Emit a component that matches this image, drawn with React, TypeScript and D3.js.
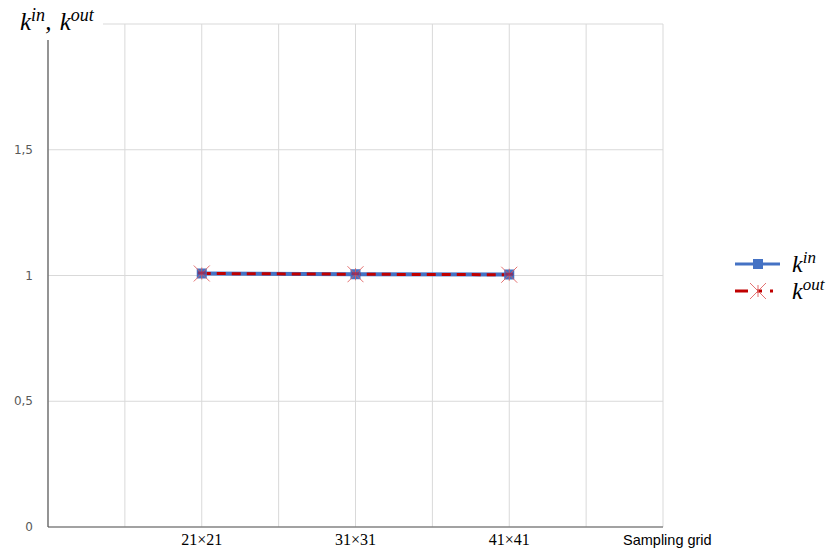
import React from "react";
import * as d3 from "d3";

const categories = ["21×21", "31×31", "41×41"];
const kIn = [1.008, 1.005, 1.004];
const kOut = [1.008, 1.005, 1.003];
const yTicks = [0, 0.5, 1, 1.5, 2];

const W = 830;
const H = 549;
const M = { left: 48, right: 167, top: 24, bottom: 22 };

export default function App() {
  const x = d3.scaleLinear().domain([0, categories.length + 1]).range([M.left, W - M.right]);
  const y = d3.scaleLinear().domain([0, 2]).range([H - M.bottom, M.top]);
  const xGrid = d3.range(0, categories.length + 1.01, 0.5);
  const line = d3
    .line<number>()
    .x((_, i) => x(i + 1))
    .y((d) => y(d));

  const star = (cx: number, cy: number, key: number) => (
    <g key={key} stroke="#e05a5a" strokeWidth={1} opacity={0.85}>
      <line x1={cx - 8} y1={cy - 8} x2={cx + 8} y2={cy + 8} />
      <line x1={cx - 8} y1={cy + 8} x2={cx + 8} y2={cy - 8} />
      <line x1={cx} y1={cy - 6} x2={cx} y2={cy + 6} />
    </g>
  );

  return (
    <svg width={W} height={H} style={{ position: "absolute", left: 0, top: 0, background: "#fff" }}>
      {/* grid */}
      {yTicks.map((t) => (
        <line key={t} x1={M.left} x2={W - M.right} y1={y(t)} y2={y(t)} stroke="#d9d9d9" />
      ))}
      {xGrid.map((v) => (
        <line key={v} x1={x(v)} x2={x(v)} y1={y(2)} y2={y(0)} stroke="#d9d9d9" />
      ))}
      {/* title area covers the top-left */}
      <rect x={0} y={0} width={103} height={40} fill="#fff" />
      <text x={20} y={30} fontFamily="Liberation Serif" fontStyle="italic" fontSize={25} fill="#000">
        k<tspan fontSize={18} dy={-9}>in</tspan>
        <tspan dy={9}>, </tspan>
        <tspan dx={2}>k</tspan>
        <tspan fontSize={18} dy={-9}>out</tspan>
      </text>
      {/* axes */}
      <line x1={M.left} x2={M.left} y1={40} y2={y(0)} stroke="#595959" strokeWidth={1.2} />
      <line x1={M.left} x2={W - M.right} y1={y(0)} y2={y(0)} stroke="#595959" strokeWidth={1.2} />
      {yTicks.slice(0, 4).map((t) => (
        <text
          key={t}
          x={33}
          y={y(t)}
          textAnchor="end"
          dominantBaseline="central"
          fontFamily="DejaVu Sans"
          fontSize={12}
          fill="#595959"
        >
          {String(t).replace(".", ",")}
        </text>
      ))}
      {categories.map((c, i) => (
        <text key={c} x={x(i + 1)} y={545} textAnchor="middle" fontFamily="Liberation Serif" fontSize={16} fill="#000">
          {c}
        </text>
      ))}
      <text x={623} y={545} fontFamily="Liberation Sans" fontSize={14.5} fill="#000">
        Sampling grid
      </text>
      {/* series */}
      <path d={line(kIn) ?? ""} fill="none" stroke="#4472c4" strokeWidth={4} />
      <path d={line(kOut) ?? ""} fill="none" stroke="#c00000" strokeWidth={3} strokeDasharray="9,6" />
      {kIn.map((d, i) => (
        <rect key={i} x={x(i + 1) - 5} y={y(d) - 5} width={10} height={10} fill="#4472c4" />
      ))}
      {kOut.map((d, i) => star(x(i + 1), y(d), i))}
      {kOut.map((d, i) => (
        <rect key={"c" + i} x={x(i + 1) - 4} y={y(d) - 2} width={8} height={3} fill="#a0103a" opacity={0.6} />
      ))}
      {/* legend */}
      <g>
        <line x1={735} x2={780} y1={264} y2={264} stroke="#4472c4" strokeWidth={3} />
        <rect x={753} y={259} width={10} height={10} fill="#4472c4" />
        <text x={792} y={272} fontFamily="Liberation Serif" fontStyle="italic" fontSize={24}>
          k<tspan fontSize={17} dy={-9}>in</tspan>
        </text>
        <line x1={735} x2={780} y1={291} y2={291} stroke="#c00000" strokeWidth={3} strokeDasharray="13,9,5,8,3" />
        {star(758, 291, 99)}
        <text x={792} y={299} fontFamily="Liberation Serif" fontStyle="italic" fontSize={24}>
          k<tspan fontSize={17} dy={-9}>out</tspan>
        </text>
      </g>
    </svg>
  );
}
